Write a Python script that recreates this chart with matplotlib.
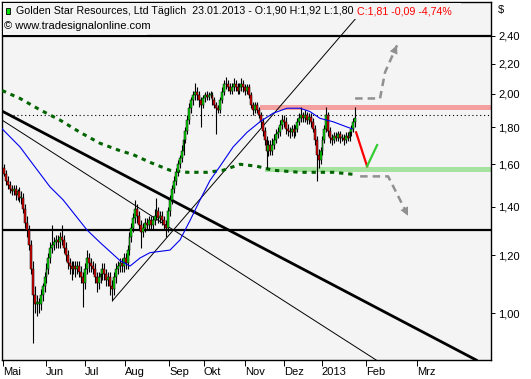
import numpy as np
import matplotlib.pyplot as plt
from matplotlib.patches import Rectangle
from matplotlib.ticker import NullLocator

plt.rcParams['font.family'] = ['Liberation Sans', 'DejaVu Sans']

# Golden Star Resources, daily bars 01.05.2012 - 23.01.2013
opens = [
    1.58, 1.55, 1.52, 1.50, 1.48, 1.47, 1.48, 1.45, 1.47, 1.44,
    1.44, 1.39, 1.33, 1.30, 1.24, 1.15, 1.06, 1.03, 1.03, 1.03,
    1.06, 1.09, 1.12, 1.15, 1.19, 1.23, 1.24, 1.25, 1.26, 1.25,
    1.27, 1.26, 1.23, 1.20, 1.17, 1.16, 1.15, 1.16, 1.15, 1.16,
    1.14, 1.12, 1.10, 1.15, 1.19, 1.17, 1.16, 1.15, 1.12, 1.10,
    1.12, 1.13, 1.15, 1.13, 1.11, 1.12, 1.09, 1.08, 1.12, 1.15,
    1.16, 1.17, 1.16, 1.19, 1.17, 1.22, 1.27, 1.31, 1.35, 1.39,
    1.36, 1.32, 1.29, 1.31, 1.33, 1.32, 1.34, 1.32, 1.34, 1.36,
    1.38, 1.35, 1.36, 1.34, 1.32, 1.31, 1.38, 1.43, 1.48, 1.52,
    1.56, 1.60, 1.63, 1.67, 1.73, 1.78, 1.84, 1.91, 1.96, 1.99,
    2.01, 1.99, 1.96, 1.93, 1.97, 1.99, 1.98, 1.99, 1.99, 1.96,
    1.93, 1.91, 1.90, 1.96, 2.01, 2.06, 2.06, 2.04, 2.02, 2.04,
    2.06, 2.04, 2.02, 2.04, 2.06, 2.04, 2.02, 2.04, 1.99, 1.93,
    1.90, 1.93, 1.90, 1.87, 1.83, 1.78, 1.73, 1.67, 1.70, 1.67,
    1.70, 1.73, 1.76, 1.77, 1.81, 1.84, 1.83, 1.79, 1.78, 1.77,
    1.79, 1.77, 1.79, 1.83, 1.85, 1.87, 1.85, 1.87, 1.84, 1.86,
    1.83, 1.79, 1.73, 1.65, 1.62, 1.67, 1.73, 1.79, 1.87, 1.78,
    1.74, 1.73, 1.75, 1.74, 1.76, 1.74, 1.74, 1.73, 1.75, 1.74,
    1.77, 1.79, 1.83]
highs = [
    1.60, 1.57, 1.54, 1.52, 1.50, 1.50, 1.50, 1.48, 1.49, 1.47,
    1.46, 1.41, 1.36, 1.32, 1.26, 1.18, 1.09, 1.06, 1.05, 1.08,
    1.10, 1.14, 1.17, 1.21, 1.25, 1.32, 1.27, 1.28, 1.28, 1.29,
    1.32, 1.28, 1.25, 1.22, 1.19, 1.18, 1.18, 1.18, 1.18, 1.18,
    1.16, 1.14, 1.17, 1.22, 1.21, 1.19, 1.18, 1.17, 1.14, 1.14,
    1.15, 1.17, 1.17, 1.15, 1.14, 1.14, 1.11, 1.14, 1.17, 1.18,
    1.19, 1.19, 1.21, 1.21, 1.24, 1.29, 1.33, 1.37, 1.43, 1.41,
    1.38, 1.34, 1.33, 1.35, 1.35, 1.36, 1.36, 1.36, 1.39, 1.44,
    1.40, 1.38, 1.38, 1.36, 1.34, 1.40, 1.45, 1.50, 1.54, 1.58,
    1.62, 1.65, 1.70, 1.75, 1.80, 1.87, 1.94, 1.98, 2.02, 2.07,
    2.04, 2.02, 1.98, 1.99, 2.01, 2.02, 2.01, 2.02, 2.01, 1.98,
    1.95, 1.93, 1.98, 2.04, 2.09, 2.11, 2.09, 2.07, 2.07, 2.10,
    2.09, 2.07, 2.07, 2.10, 2.09, 2.06, 2.06, 2.06, 2.01, 1.95,
    1.95, 1.95, 1.92, 1.89, 1.85, 1.80, 1.75, 1.73, 1.73, 1.74,
    1.76, 1.79, 1.80, 1.84, 1.87, 1.87, 1.86, 1.82, 1.80, 1.81,
    1.82, 1.81, 1.85, 1.88, 1.92, 1.89, 1.90, 1.89, 1.88, 1.88,
    1.85, 1.81, 1.75, 1.68, 1.69, 1.75, 1.81, 1.92, 1.89, 1.80,
    1.76, 1.77, 1.77, 1.78, 1.78, 1.76, 1.76, 1.77, 1.77, 1.79,
    1.81, 1.85, 1.92]
lows = [
    1.54, 1.50, 1.48, 1.46, 1.45, 1.45, 1.43, 1.43, 1.42, 1.41,
    1.37, 1.31, 1.27, 1.22, 1.13, 0.91, 1.00, 0.99, 1.00, 1.01,
    1.04, 1.07, 1.10, 1.13, 1.17, 1.21, 1.22, 1.23, 1.23, 1.23,
    1.24, 1.21, 1.18, 1.15, 1.13, 1.11, 1.13, 1.12, 1.13, 1.12,
    1.10, 1.02, 1.08, 1.13, 1.14, 1.14, 1.13, 1.10, 1.07, 1.08,
    1.10, 1.11, 1.11, 1.09, 1.09, 1.06, 1.04, 1.06, 1.10, 1.13,
    1.14, 1.14, 1.14, 1.15, 1.15, 1.20, 1.25, 1.29, 1.33, 1.33,
    1.30, 1.23, 1.27, 1.29, 1.30, 1.30, 1.30, 1.30, 1.32, 1.34,
    1.33, 1.33, 1.32, 1.30, 1.27, 1.29, 1.36, 1.41, 1.46, 1.50,
    1.54, 1.58, 1.61, 1.65, 1.71, 1.76, 1.82, 1.88, 1.93, 1.96,
    1.96, 1.92, 1.80, 1.91, 1.95, 1.96, 1.96, 1.97, 1.93, 1.91,
    1.76, 1.88, 1.88, 1.94, 1.99, 2.03, 2.02, 2.00, 2.00, 2.02,
    2.02, 2.00, 2.00, 2.02, 2.01, 1.99, 2.00, 1.97, 1.91, 1.87,
    1.88, 1.88, 1.85, 1.80, 1.75, 1.70, 1.58, 1.64, 1.65, 1.65,
    1.68, 1.71, 1.74, 1.75, 1.79, 1.80, 1.76, 1.75, 1.74, 1.75,
    1.74, 1.75, 1.77, 1.81, 1.83, 1.83, 1.83, 1.82, 1.82, 1.80,
    1.77, 1.70, 1.52, 1.58, 1.60, 1.65, 1.71, 1.77, 1.75, 1.71,
    1.70, 1.71, 1.72, 1.72, 1.71, 1.72, 1.70, 1.71, 1.72, 1.72,
    1.75, 1.77, 1.80]
closes = [
    1.55, 1.52, 1.50, 1.48, 1.47, 1.48, 1.45, 1.47, 1.44, 1.44,
    1.39, 1.33, 1.30, 1.24, 1.15, 1.06, 1.03, 1.03, 1.03, 1.06,
    1.09, 1.12, 1.15, 1.19, 1.23, 1.24, 1.25, 1.26, 1.25, 1.27,
    1.26, 1.23, 1.20, 1.17, 1.16, 1.15, 1.16, 1.15, 1.16, 1.14,
    1.12, 1.10, 1.15, 1.19, 1.17, 1.16, 1.15, 1.12, 1.10, 1.12,
    1.13, 1.15, 1.13, 1.11, 1.12, 1.09, 1.08, 1.12, 1.15, 1.16,
    1.17, 1.16, 1.19, 1.17, 1.22, 1.27, 1.31, 1.35, 1.39, 1.36,
    1.32, 1.29, 1.31, 1.33, 1.32, 1.34, 1.32, 1.34, 1.36, 1.38,
    1.35, 1.36, 1.34, 1.32, 1.31, 1.38, 1.43, 1.48, 1.52, 1.56,
    1.60, 1.63, 1.67, 1.73, 1.78, 1.84, 1.91, 1.96, 1.99, 2.01,
    1.99, 1.96, 1.93, 1.97, 1.99, 1.98, 1.99, 1.99, 1.96, 1.93,
    1.91, 1.90, 1.96, 2.01, 2.06, 2.06, 2.04, 2.02, 2.04, 2.06,
    2.04, 2.02, 2.04, 2.06, 2.04, 2.02, 2.04, 1.99, 1.93, 1.90,
    1.93, 1.90, 1.87, 1.83, 1.78, 1.73, 1.67, 1.70, 1.67, 1.70,
    1.73, 1.76, 1.77, 1.81, 1.84, 1.83, 1.79, 1.78, 1.77, 1.79,
    1.77, 1.79, 1.83, 1.85, 1.87, 1.85, 1.87, 1.84, 1.86, 1.83,
    1.79, 1.73, 1.65, 1.62, 1.67, 1.73, 1.79, 1.87, 1.78, 1.74,
    1.73, 1.75, 1.74, 1.76, 1.74, 1.74, 1.73, 1.75, 1.74, 1.77,
    1.79, 1.83, 1.85]

# moving averages, sampled along the drawn curves (bar index, price)
ma_fast_x = [-1.0, 8.3, 15.0, 23.8, 30.6, 43.0, 49.7, 60.1, 65.3, 70.5, 75.6, 86.0, 91.2,
             96.4, 101.6, 106.7, 111.9, 118.7, 125.9, 132.6, 139.4, 146.6, 153.4, 158.5,
             163.7, 170.5, 177.7, 180.3]
ma_fast_y = [1.79, 1.69, 1.60, 1.49, 1.43, 1.30, 1.25, 1.18, 1.16, 1.19, 1.21, 1.22, 1.26,
             1.34, 1.43, 1.52, 1.59, 1.69, 1.77, 1.83, 1.88, 1.91, 1.91, 1.89,
             1.85, 1.83, 1.80, 1.79]
ma_slow_x = [-1.0, 8.3, 18.7, 29.0, 39.4, 49.7, 60.1, 66.8, 75.6, 86.0, 94.8, 105.2, 113.5,
             122.3, 131.1, 139.4, 153.4, 170.5, 180.8]
ma_slow_y = [2.02, 1.97, 1.90, 1.84, 1.77, 1.71, 1.67, 1.65, 1.61, 1.57, 1.56, 1.56, 1.57,
             1.60, 1.59, 1.57, 1.56, 1.56, 1.55]

# drawn trend lines (bar index, price)
trend_up = ([56.5, 189.6], [1.042, 2.672])
trend_down_thin = ([-1.04, 192.8], [1.84, 0.862])
trend_down_thick = ([-1.04, 244.6], [1.893, 0.862])
h_levels = [2.40, 1.30]
dotted_level = 1.87
resistance = (132.6, 1.90, 1.93)
support = (135.2, 1.563, 1.586)

# scenario sketch
v_down = ([182.4, 188.1], [1.77, 1.59])
v_up = ([188.1, 193.3], [1.59, 1.70])
arrow_up = ([181.9, 194.8, 197.4, 203.6], [1.97, 1.97, 2.14, 2.33])
arrow_down = ([184.5, 199.0, 202.6, 209.3], [1.54, 1.54, 1.475, 1.36])

month_pos = [-0.4, 21.6, 42.1, 62.5, 85.5, 103.6, 124.7, 145.1, 164.6, 187.6, 214.1]
month_labels = ['Mai', 'Jun', 'Jul', 'Aug', 'Sep', 'Okt', 'Nov', 'Dez', '2013', 'Feb', 'Mrz']
y_ticks = [1.0, 1.2, 1.4, 1.6, 1.8, 2.0, 2.2, 2.4]
y_labels = ['1,00', '1,20', '1,40', '1,60', '1,80', '2,00', '2,20', '2,40']

W, H = 531, 379
fig = plt.figure(figsize=(W / 100, H / 100), dpi=100)
ax = fig.add_axes([2 / W, 19 / H, 489 / W, 358 / H])
ax.set_facecolor('#f4f4f4')
ax.set_yscale('log')
xmax = 252.3

# bands and levels
ax.fill_between([resistance[0], xmax], resistance[1], resistance[2], color='#f5a0a0', lw=0, zorder=1)
ax.fill_between([support[0], xmax], support[1], support[2], color='#a8e2a0', lw=0, zorder=1)
for lv in h_levels:
    ax.axhline(lv, color='black', lw=1.6, zorder=2)
ax.hlines(dotted_level, 4.7, xmax, colors='black', lw=0.8, linestyles=(0, (1, 2.5)), zorder=2)

ax.plot(*trend_up, color='black', lw=0.7, zorder=2)
ax.plot(*trend_down_thin, color='black', lw=0.7, zorder=2)
ax.plot(*trend_down_thick, color='black', lw=2.0, zorder=2)

ax.plot(ma_slow_x, ma_slow_y, color='#006400', lw=2.2, linestyle=(0, (1.4, 1.6)),
        dash_capstyle='butt', zorder=3)
ax.plot(ma_fast_x, ma_fast_y, color='#0000ee', lw=0.8, zorder=5)

# candles
x = np.arange(len(closes))
o = np.array(opens)
c = np.array(closes)
ax.vlines(x, lows, highs, color='black', lw=0.8, zorder=4)
cols = ['#00e000' if cc >= oo else '#e00000' for oo, cc in zip(o, c)]
ax.bar(x, np.maximum(np.abs(c - o), 0.005), bottom=np.minimum(o, c), width=1.0,
       color=cols, edgecolor='black', lw=0.35, zorder=4)

# scenario sketch
ax.plot(*v_down, color='#ff0000', lw=1.6, zorder=5)
ax.plot(*v_up, color='#33cc33', lw=1.6, zorder=5)
for xs, ys in (arrow_up, arrow_down):
    ax.plot(xs, ys, color='#909090', lw=1.8, linestyle=(0, (3, 2)), zorder=5)
    ax.annotate('', xy=(xs[-1], ys[-1]), xytext=(xs[-2], ys[-2]),
                arrowprops=dict(arrowstyle='-|>,head_length=0.6,head_width=0.3',
                                color='#909090', lw=0, shrinkA=0, shrinkB=0), zorder=5)

ax.set_xlim(-1.04, xmax)
ax.set_ylim(0.862, 2.672)

ax.yaxis.tick_right()
ax.set_yticks(y_ticks, y_labels)
ax.yaxis.set_minor_locator(NullLocator())
ax.tick_params(axis='y', direction='out', length=3, width=0.7, pad=2, labelsize=8)
ax.set_xticks(month_pos, month_labels)
ax.tick_params(axis='x', direction='out', length=4, width=0.7, pad=1, labelsize=8)
for lbl in ax.get_xticklabels():
    lbl.set_ha('left')
for sp in ax.spines.values():
    sp.set_color('black')
    sp.set_linewidth(1.0)

# header
fig.add_artist(Rectangle((3 / W, 1 - 19 / H), 458 / W, 16 / H, transform=fig.transFigure,
                         fc='#f4f4f4', ec='none', zorder=2))
fig.add_artist(Rectangle((3 / W, 1 - 35 / H), 144 / W, 16 / H, transform=fig.transFigure,
                         fc='#f4f4f4', ec='none', zorder=2))
fig.add_artist(Rectangle((6 / W, 1 - 14 / H), 4 / W, 6 / H, transform=fig.transFigure,
                         fc='#00e000', ec='black', lw=0.6, zorder=3))
fig.text(16 / W, 1 - 11 / H, 'Golden Star Resources, Ltd Täglich  23.01.2013 - O:1,90 H:1,92 L:1,80',
         fontsize=7.7, va='center', zorder=4)
fig.text(357 / W, 1 - 11 / H, 'C:1,81 -0,09 -4,74%', color='#ff0000', fontsize=7.7,
         va='center', zorder=4)
fig.text(4 / W, 1 - 26 / H, '© www.tradesignalonline.com', fontsize=8, va='center', zorder=4)
fig.text(498 / W, 1 - 10 / H, '$', fontsize=8, va='center')

fig.savefig('out.png', dpi=100)
